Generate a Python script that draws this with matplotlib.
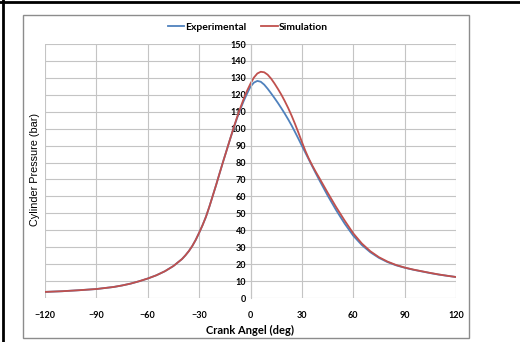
import matplotlib.pyplot as plt
from matplotlib.patches import Rectangle
from matplotlib.lines import Line2D

# crank angle (deg) and cylinder pressure (bar)
exp_angle = [-120, -110, -100, -90, -80, -75, -70, -65, -60, -55, -50, -45, -40, -38, -36,
             -34, -32, -30, -28, -26, -24, -22, -20, -18, -16, -14, -12, -10, -8, -6, -4,
             -2, 0, 2, 4, 6, 8, 10, 12, 14, 16, 18, 20, 22, 24, 26, 28, 30, 32, 34, 36, 38,
             40, 45, 50, 55, 60, 65, 70, 75, 80, 85, 90, 95, 100, 105, 110, 115, 120]
exp_pressure = [3.6, 4.0, 4.6, 5.3, 6.5, 7.4, 8.5, 9.9, 11.5, 13.4, 15.8, 18.9, 23.0, 25.2, 27.7,
                30.7, 34.3, 38.5, 43.0, 48.0, 54.0, 60.5, 67.0, 73.8, 80.5, 87.0, 93.5, 99.8,
                105.8, 111.3, 116.3, 120.7, 124.8, 127.2, 128.2, 127.7, 126.0, 123.6, 120.9,
                118.1, 115.2, 112.1, 108.9, 105.5, 101.9, 98.0, 94.0, 89.9, 85.9, 81.9, 77.9,
                73.9, 70.0, 60.6, 51.9, 43.9, 36.8, 31.3, 27.0, 23.7, 21.2, 19.3, 17.9, 16.7,
                15.7, 14.7, 13.8, 13.1, 12.4]

sim_angle = [-120, -110, -100, -90, -80, -75, -70, -65, -60, -55, -50, -45, -40, -38, -36,
             -34, -32, -30, -28, -26, -24, -22, -20, -18, -16, -14, -12, -10, -8, -6, -4,
             -2, 0, 2, 4, 6, 8, 10, 12, 14, 16, 18, 20, 22, 24, 26, 28, 30, 32, 34, 36, 38,
             40, 45, 50, 55, 60, 65, 70, 75, 80, 85, 90, 95, 100, 105, 110, 115, 120]
sim_pressure = [3.6, 4.0, 4.6, 5.3, 6.5, 7.4, 8.5, 9.9, 11.5, 13.4, 15.8, 18.9, 23.0, 25.2, 27.7,
                30.7, 34.3, 38.5, 43.0, 48.0, 54.0, 60.5, 67.0, 73.8, 80.5, 87.0, 93.6, 100.1,
                106.3, 112.1, 117.5, 122.4, 126.6, 130.2, 132.6, 133.6, 133.3, 131.9, 129.6,
                126.7, 123.5, 120.1, 116.3, 112.2, 107.7, 102.8, 97.6, 92.2, 87.0, 82.4, 78.4,
                74.7, 71.2, 62.3, 53.7, 45.7, 38.2, 32.2, 27.6, 24.1, 21.5, 19.5, 18.0, 16.8,
                15.8, 14.8, 13.9, 13.1, 12.4]

x_ticks = [-120, -90, -60, -30, 0, 30, 60, 90, 120]
y_ticks = list(range(0, 151, 10))

fig = plt.figure(figsize=(5.2, 3.42), dpi=100)

# outer frame and inner chart box
fig.add_artist(Line2D([0, 1], [1 - 1.5 / 342, 1 - 1.5 / 342], color='black', lw=2))
fig.add_artist(Line2D([2.5 / 520, 2.5 / 520], [0, 1], color='black', lw=2))
fig.add_artist(Rectangle((23 / 520, 4.5 / 342), 446 / 520, 322.5 / 342, fill=False,
                         edgecolor='#8c8c8c', lw=1))

ax = fig.add_axes([45 / 520, 44 / 342, 411 / 520, 254 / 342])
ax.plot(exp_angle, exp_pressure, color='#4F81BD', lw=1.3, label='Experimental')
ax.plot(sim_angle, sim_pressure, color='#C0504D', lw=1.3, label='Simulation')

ax.set_xlim(-120, 120)
ax.set_ylim(0, 150)
ax.set_xticks(x_ticks)
ax.set_yticks(y_ticks)
ax.grid(True, color='#c4c4c4', lw=0.8)
ax.set_axisbelow(True)

for s in ['top', 'right', 'bottom']:
    ax.spines[s].set_visible(False)
ax.spines['left'].set_position(('data', 0))
ax.spines['left'].set_color('#c4c4c4')
ax.spines['left'].set_linewidth(0.8)
ax.tick_params(length=0)
ax.tick_params(axis='x', pad=9)
ax.tick_params(axis='y', pad=3)
for lab in ax.get_xticklabels() + ax.get_yticklabels():
    lab.set_fontsize(6.5)
    lab.set_fontweight('bold')
    lab.set_family('Lato')

ax.set_xlabel('Crank Angel (deg)', fontsize=8, fontweight='bold', family='Lato', labelpad=4)
fig.text(35 / 520, 1 - 170 / 342, 'Cylinder Pressure (bar)', rotation=90, fontsize=7.8,
         family='Liberation Sans', ha='center', va='center')

fig.legend(loc='center', bbox_to_anchor=(248 / 520, 1 - 27 / 342), ncol=2, frameon=False,
           prop={'family': 'Lato', 'weight': 'bold', 'size': 7.5}, handlelength=1.6,
           handletextpad=0.1, columnspacing=1.4)

fig.savefig('out.png', dpi=100)
